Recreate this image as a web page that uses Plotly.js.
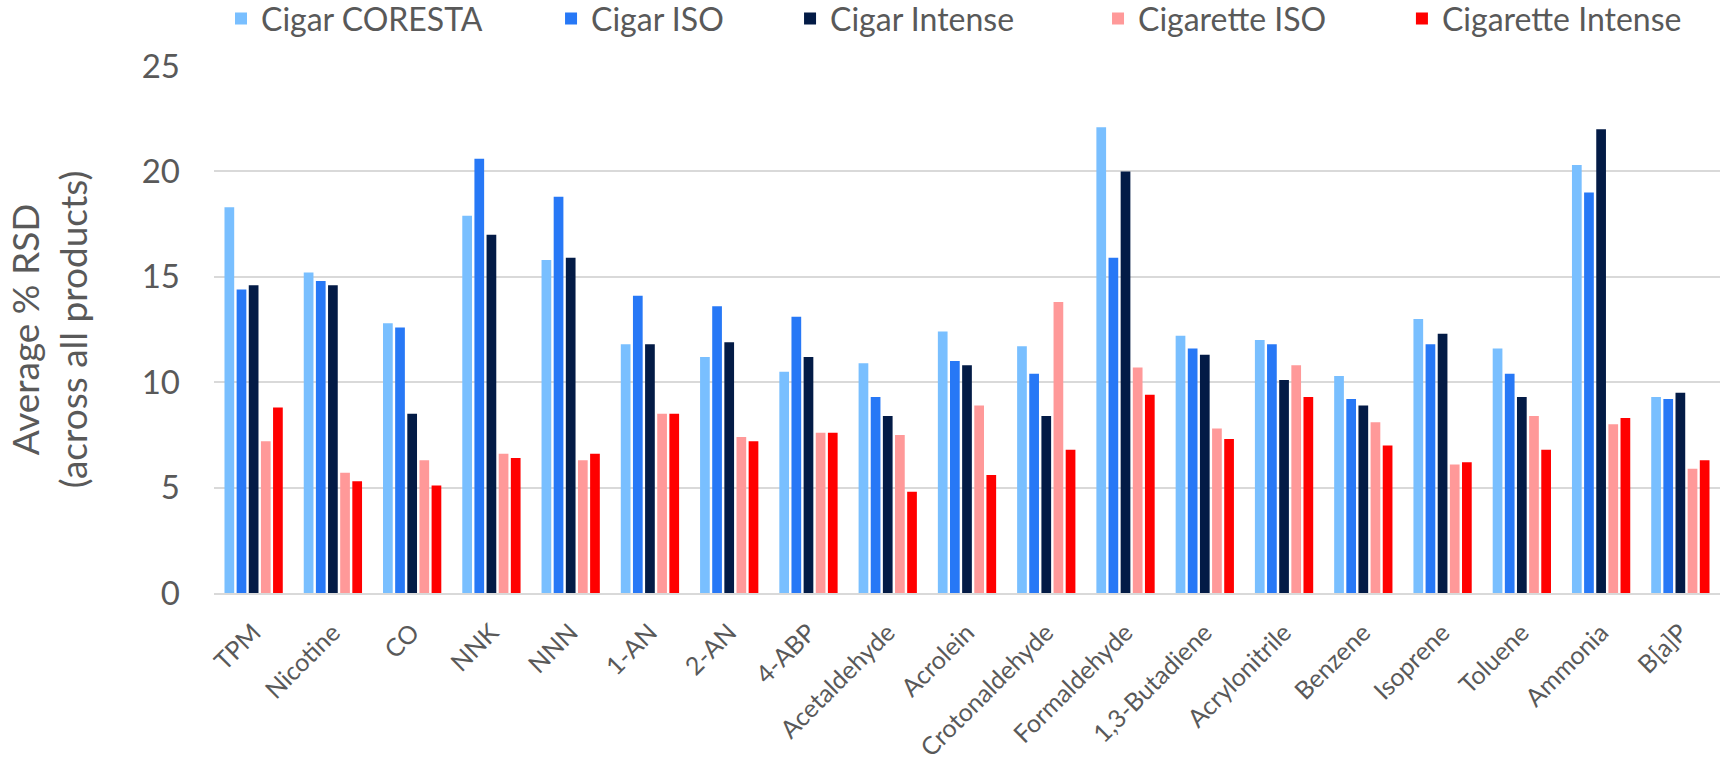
<!DOCTYPE html>
<html>
<head>
<meta charset="utf-8">
<script src="https://cdn.plot.ly/plotly-3.0.1.min.js"></script>
<style>html,body{margin:0;padding:0;background:#fff;}#chart{width:1723px;height:764px;}</style>
</head>
<body>
<div id="chart"></div>
<script>
const categories = ["TPM","Nicotine","CO","NNK","NNN","1-AN","2-AN","4-ABP","Acetaldehyde","Acrolein","Crotonaldehyde","Formaldehyde","1,3-Butadiene","Acrylonitrile","Benzene","Isoprene","Toluene","Ammonia","B[a]P"];
const cigarCoresta   = [18.3,15.2,12.8,17.9,15.8,11.8,11.2,10.5,10.9,12.4,11.7,22.1,12.2,12.0,10.3,13.0,11.6,20.3,9.3];
const cigarIso       = [14.4,14.8,12.6,20.6,18.8,14.1,13.6,13.1,9.3,11.0,10.4,15.9,11.6,11.8,9.2,11.8,10.4,19.0,9.2];
const cigarIntense   = [14.6,14.6,8.5,17.0,15.9,11.8,11.9,11.2,8.4,10.8,8.4,20.0,11.3,10.1,8.9,12.3,9.3,22.0,9.5];
const cigaretteIso   = [7.2,5.7,6.3,6.6,6.3,8.5,7.4,7.6,7.5,8.9,13.8,10.7,7.8,10.8,8.1,6.1,8.4,8.0,5.9];
const cigaretteIntense = [8.8,5.3,5.1,6.4,6.6,8.5,7.2,7.6,4.8,5.6,6.8,9.4,7.3,9.3,7.0,6.2,6.8,8.3,6.3];
const seriesNames = ["Cigar CORESTA","Cigar ISO","Cigar Intense","Cigarette ISO","Cigarette Intense"];
const yTickVals = [0,5,10,15,20,25];

const colors = ["#79BFFF","#2778F6","#031B46","#FF9999","#FF0000"];
const values = [cigarCoresta,cigarIso,cigarIntense,cigaretteIso,cigaretteIntense];
const FONT = "Lato, 'Open Sans', sans-serif";
const TXT = "#595959";
const legendIds = ["legend","legend2","legend3","legend4","legend5"];
const legendX = [0.00465,0.2238,0.3825,0.5870,0.7888];

const data = values.map((v,i)=>({
  type:"bar", name:seriesNames[i], x:categories, y:v, legend:legendIds[i],
  marker:{color:colors[i], line:{width:0}}
}));

const layout = {
  width:1723, height:764,
  margin:{l:214, r:3, t:66, b:171, pad:0, autoexpand:false},
  paper_bgcolor:"#fff", plot_bgcolor:"#fff",
  font:{family:FONT, color:TXT},
  barmode:"group", bargap:0.234, bargroupgap:0.2,
  showlegend:true,
  xaxis:{type:"category", showgrid:false, showline:true, linecolor:"#D9D9D9", linewidth:2,
         tickangle:-45, tickfont:{size:25, family:FONT, color:TXT}, ticks:"", ticklabelstandoff:13},
  yaxis:{range:[0,25], tickvals:yTickVals, showgrid:true, gridcolor:"#D9D9D9", gridwidth:2,
         zeroline:false, showline:false, ticks:"", tickfont:{size:33, family:FONT, color:TXT},
         ticklabelstandoff:33,
         title:{text:"Average % RSD<br>(across all products)", font:{size:37, family:FONT, color:TXT}, standoff:42}}
};
legendIds.forEach((id,i)=>{
  layout[id] = {orientation:"h", x:legendX[i], xanchor:"left", y:1.142, yanchor:"top",
    bgcolor:"rgba(0,0,0,0)", font:{size:32, family:FONT, color:TXT}, itemclick:false};
});

Plotly.newPlot("chart", data, layout, {displayModeBar:false, staticPlot:true});
</script>
</body>
</html>
